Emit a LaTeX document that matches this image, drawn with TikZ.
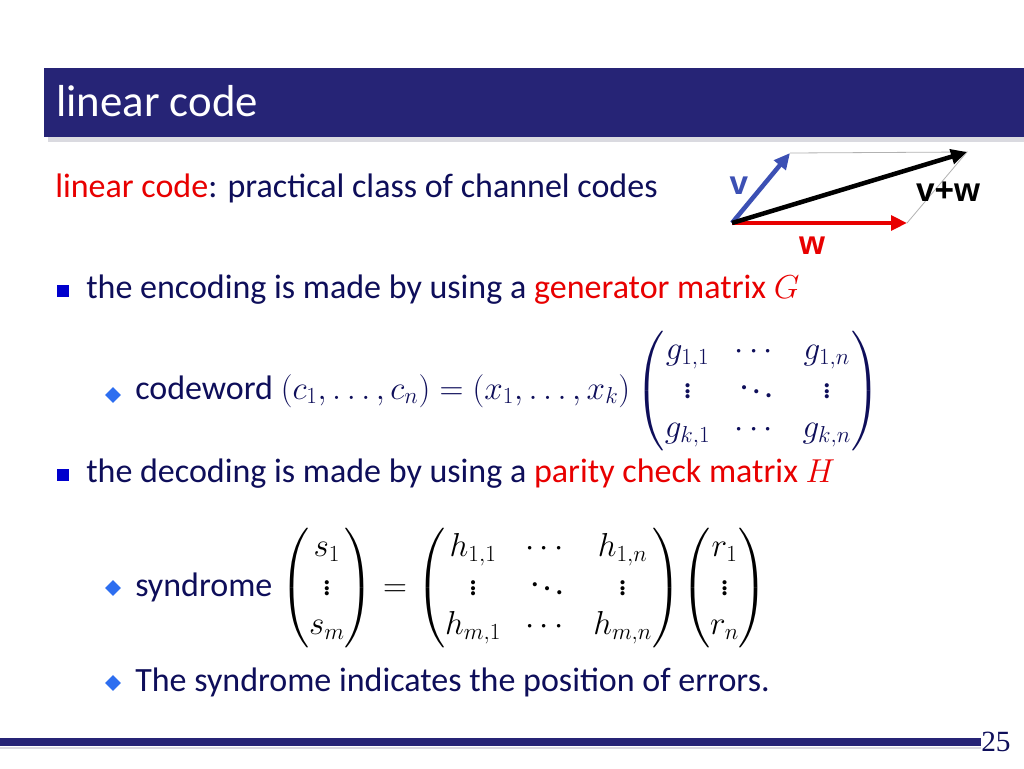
\documentclass[tikz,border=0pt]{standalone}
\usepackage{amsmath}
\usepackage{fontspec}
\setmainfont{Carlito}
\newfontfamily\vecfont{Liberation Sans}
\newfontfamily\pagefont{Liberation Serif}
\usetikzlibrary{arrows.meta,shapes.geometric}

\definecolor{titlenavy}{RGB}{38,36,118}
\definecolor{textnavy}{RGB}{14,14,90}
\definecolor{keyred}{RGB}{232,0,0}
\definecolor{sqblue}{RGB}{0,0,205}
\definecolor{dmblue}{RGB}{45,110,240}
\definecolor{vblue}{RGB}{60,80,180}
\definecolor{shadowgray}{RGB}{218,218,224}

\newcommand{\keyword}[1]{\textcolor{keyred}{#1}}

\begin{document}
\begin{tikzpicture}[x=0.75pt, y=-0.75pt,
  body/.style = {anchor=base west, inner sep=0pt, text=textnavy,
    font=\fontsize{25.5}{28}\selectfont},
  sqbullet/.style = {rectangle, fill=sqblue, minimum size=8.5pt, inner sep=0pt},
  dmbullet/.style = {diamond, fill=dmblue, minimum size=12pt, inner sep=0pt},
  vecarrow/.style = {line width=3.4pt, -{Triangle[length=12pt, width=11pt]}},
  veclabel/.style = {inner sep=0pt, font=\vecfont\bfseries\fontsize{25}{28}\selectfont}]

  \useasboundingbox[fill=white] (0,0) rectangle (1024,768);

  % title bar
  \fill[shadowgray] (48,136) rectangle (1024,142);
  \fill[titlenavy] (44,68) rectangle (1024,137);
  \node[anchor=base west, inner sep=0pt, text=white,
    font=\fontsize{33.6}{40}\selectfont] (title) at (56,116) {linear code};

  % intro line
  \node[body] (intro) at (55,197) {\keyword{linear code}: practical class of channel codes};

  % v, w and v+w
  \coordinate (O) at (732,223);
  \coordinate (V) at (790,153);
  \coordinate (W) at (907,223);
  \coordinate (S) at (967,152);
  \draw[gray!60, line width=0.6pt] (V) -- (S) -- (W);
  \draw[vecarrow, vblue] (O) -- (V);
  \draw[vecarrow, keyred] (O) -- (W);
  \draw[vecarrow, black] (O) -- (S);
  \node[veclabel, text=vblue] (vlab) at (739,186) {v};
  \node[veclabel, text=keyred] (wlab) at (812,246) {w};
  \node[veclabel, text=black] (vwlab) at (948,192) {v+w};

  % encoding
  \node[sqbullet] (b1) at (63,291) {};
  \node[body] (enc) at (86,298) {the encoding is made by using a \keyword{generator matrix $G$}};
  \node[dmbullet] (b2) at (113,395) {};
  \node[body] (cw) at (135,399) {codeword
    $\renewcommand{\arraystretch}{1.05}\setlength{\arraycolsep}{9pt}
    (c_1,\ldots,c_n)=(x_1,\ldots,x_k)\begin{pmatrix}
      g_{1,1} & \cdots & g_{1,n}\\
      \vdots & \ddots & \vdots\\
      g_{k,1} & \cdots & g_{k,n}
    \end{pmatrix}$};

  % decoding
  \node[sqbullet] (b3) at (63,475) {};
  \node[body] (dec) at (86,482) {the decoding is made by using a \keyword{parity check matrix $H$}};
  \node[dmbullet] (b4) at (113,588) {};
  \node[body] (syn) at (135,596) {syndrome
    {\color{black}$\renewcommand{\arraystretch}{1.05}\setlength{\arraycolsep}{9pt}
    \begin{pmatrix} s_1\\ \vdots\\ s_m \end{pmatrix}=
    \begin{pmatrix}
      h_{1,1} & \cdots & h_{1,n}\\
      \vdots & \ddots & \vdots\\
      h_{m,1} & \cdots & h_{m,n}
    \end{pmatrix}\!
    \begin{pmatrix} r_1\\ \vdots\\ r_n \end{pmatrix}$}};
  \node[dmbullet] (b5) at (113,683) {};
  \node[body] (pos) at (135,691) {The syndrome indicates the position of errors.};

  % footer
  \fill[titlenavy] (0,738) rectangle (981,746);
  \fill[shadowgray] (0,747) rectangle (981,749);
  \node[anchor=base west, inner sep=0pt, text=textnavy,
    font=\pagefont\fontsize{22}{24}\selectfont] (page) at (981,751) {25};
\end{tikzpicture}
\end{document}
